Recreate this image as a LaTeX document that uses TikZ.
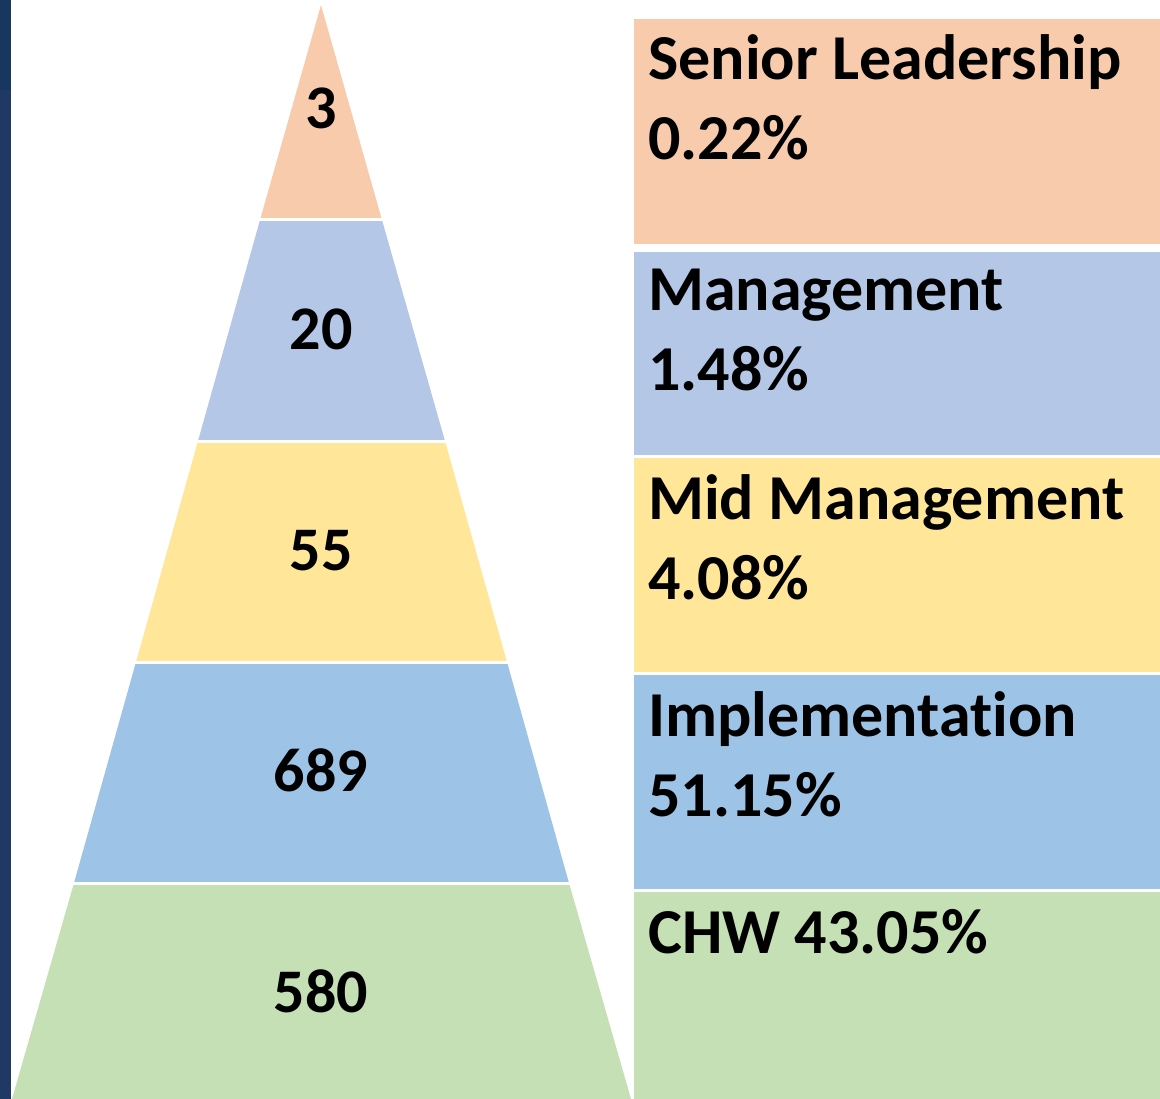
\documentclass[tikz,border=0pt]{standalone}
\usepackage{fontspec}
\setmainfont[Ligatures=NoCommon]{Carlito}
\definecolor{stripA}{RGB}{23,55,94}
\definecolor{stripB}{RGB}{31,56,100}
\definecolor{cpeach}{HTML}{F8CBAD}
\definecolor{clav}{HTML}{B4C7E7}
\definecolor{cyel}{HTML}{FFE699}
\definecolor{cblue}{HTML}{9DC3E6}
\definecolor{cgreen}{HTML}{C5E0B4}
\tikzset{
  numtxt/.style={font=\bfseries\fontsize{62}{62}\selectfont, inner sep=0pt, anchor=base},
  boxtxt/.style={font=\bfseries\fontsize{64}{64}\selectfont, inner sep=0pt, anchor=base west},
  gapline/.style={white, line width=3pt}
}
\begin{document}
\begin{tikzpicture}[x=1pt,y=-1pt]
\useasboundingbox (0,0) rectangle (1160,1099);
\fill[white] (0,0) rectangle (1160,1099);
% left strip
\fill[stripA] (0,0) rectangle (11,90);
\fill[stripB] (0,90) rectangle (11,1099);
% pyramid bands
\fill[cpeach] (321,5) -- (382,220) -- (260,220) -- cycle;
\fill[clav] (260,220) -- (382,220) -- (445,441) -- (198,441) -- cycle;
\fill[cyel] (198,441) -- (445,441) -- (507,662) -- (136,662) -- cycle;
\fill[cblue] (136,662) -- (507,662) -- (569,883) -- (74,883) -- cycle;
\fill[cgreen] (74,883) -- (569,883) -- (631,1099) -- (12,1099) -- cycle;
\draw[gapline] (250,220) -- (392,220);
\draw[gapline] (188,441) -- (455,441);
\draw[gapline] (126,662) -- (517,662);
\draw[gapline] (64,883) -- (579,883);
% numbers
\node[numtxt] (n1) at (321,129) {3};
\node[numtxt] (n2) at (321,350) {20};
\node[numtxt] (n3) at (321,570) {55};
\node[numtxt] (n4) at (321,791) {689};
\node[numtxt] (n5) at (321,1012) {580};
% boxes
\fill[cpeach] (634,19) rectangle (1160,244);
\fill[clav] (634,252) rectangle (1160,455);
\fill[cyel] (634,458) rectangle (1160,672);
\fill[cblue] (634,675) rectangle (1160,889);
\fill[cgreen] (634,892) rectangle (1160,1099);
% box texts
\node[boxtxt] (t1a) at (648,80) {Senior Leadership};
\node[boxtxt] (t1b) at (648,160) {0.22\%};
\node[boxtxt] (t2a) at (648,311) {Management};
\node[boxtxt] (t2b) at (648,391) {1.48\%};
\node[boxtxt] (t3a) at (648,519) {Mid Management};
\node[boxtxt] (t3b) at (648,599) {4.08\%};
\node[boxtxt] (t4a) at (648,736) {Implementat\kern0pt ion};
\node[boxtxt] (t4b) at (648,816) {51.15\%};
\node[boxtxt] (t5) at (648,953) {CHW 43.05\%};
\end{tikzpicture}
\end{document}
